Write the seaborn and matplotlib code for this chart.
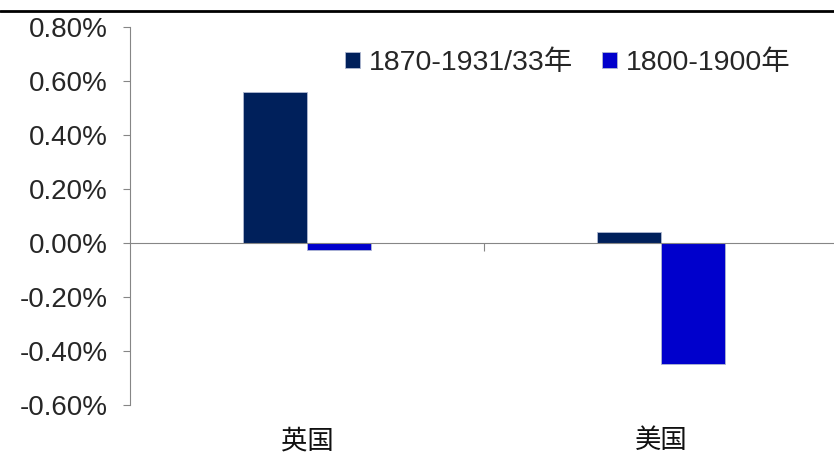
import pandas as pd
import seaborn as sns
import matplotlib.pyplot as plt
from matplotlib.ticker import FuncFormatter
import matplotlib.transforms as mtransforms

# data (percent)
countries = ["英国", "美国"]
periods = ["1870-1931/33年", "1800-1900年"]
val_1870 = [0.56, 0.04]
val_1800 = [-0.025, -0.45]
colors = ["#00205B", "#0000CC"]

df = pd.DataFrame({
    "country": countries * 2,
    "period": [periods[0]] * 2 + [periods[1]] * 2,
    "value": val_1870 + val_1800,
})

sns.set_style("white")
plt.rcParams['font.family'] = ['Liberation Sans', 'Noto Sans CJK SC', 'DejaVu Sans']

fig = plt.figure(figsize=(8.34, 4.54), dpi=100)
ax = fig.add_axes([130 / 834, 0.108, 708 / 834, 0.8325])

sns.barplot(data=df, x="country", y="value", hue="period", palette=colors,
            saturation=1, width=0.364, edgecolor="#B0B8D0", linewidth=0.6, ax=ax)

ax.set_ylim(-0.6, 0.8)
ax.set_xlim(-0.5, 1.5)
ax.set_yticks([-0.6, -0.4, -0.2, 0, 0.2, 0.4, 0.6, 0.8])
ax.yaxis.set_major_formatter(FuncFormatter(lambda v, p: f"{v:.2f}%"))
ax.tick_params(axis="y", direction="out", length=5, color="#868686",
               labelsize=20, labelcolor="#262626", left=True, pad=11)

for s in ["top", "right"]:
    ax.spines[s].set_visible(False)
ax.spines["left"].set_color("#868686")
ax.spines["bottom"].set_color("#868686")
ax.spines["bottom"].set_position(("data", 0))

# category axis: one tick between groups, labels below the plot
ax.set_xticks([0.5])
ax.set_xticklabels([""])
ax.tick_params(axis="x", direction="out", length=6, color="#868686", bottom=True)
trans = mtransforms.blended_transform_factory(ax.transData, ax.transAxes)
for i, c in enumerate(countries):
    ax.text(i, -0.095, c, transform=trans, ha="center", va="center",
            fontsize=19, family=["Noto Sans CJK SC"], color="#111111")
ax.set_xlabel("")
ax.set_ylabel("")

leg = ax.legend(loc="center left", bbox_to_anchor=(345 / 834, 1 - 63 / 454),
                bbox_transform=fig.transFigure, ncol=2, frameon=False,
                fontsize=20.5, handlelength=0.52, handleheight=0.52,
                handletextpad=0.33, columnspacing=1.0, borderpad=0,
                borderaxespad=0)
for t in leg.get_texts():
    t.set_color("#262626")

# black rule along the top of the figure
fig.add_artist(plt.Line2D([0, 1], [0.975, 0.975], color="black", linewidth=2,
                          transform=fig.transFigure))

fig.savefig("out.png", dpi=100)
